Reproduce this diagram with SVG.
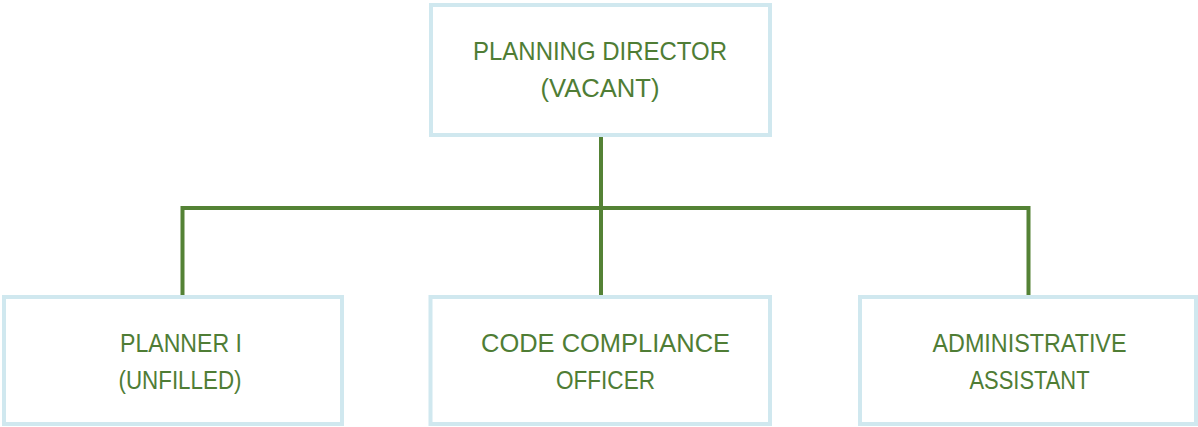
<svg xmlns="http://www.w3.org/2000/svg" width="1198" height="427" viewBox="0 0 1198 427">
  <style>
    .box { fill: #ffffff; stroke: #d0e8ef; stroke-width: 4; }
    .label { font-family: "Liberation Sans", Arial, sans-serif; font-size: 25px; fill: #4f7d35; text-anchor: middle; }
    .link { fill: none; stroke: #548235; stroke-width: 4; stroke-linejoin: miter; stroke-linecap: butt; }
  </style>

  <!-- reporting lines -->
  <g id="connectors">
    <path class="link" d="M601 136 V295"/>
    <path class="link" d="M182.5 295 V208 H1028.5 V295"/>
  </g>

  <g id="planning-director">
    <rect class="box" x="431" y="5" width="339" height="130"/>
    <text class="label" x="600" y="60" textLength="254" lengthAdjust="spacingAndGlyphs">PLANNING DIRECTOR</text>
    <text class="label" x="600" y="97" textLength="119" lengthAdjust="spacingAndGlyphs">(VACANT)</text>
  </g>

  <g id="planner-1">
    <rect class="box" x="4" y="297" width="338" height="127"/>
    <text class="label" x="181" y="352" textLength="122" lengthAdjust="spacingAndGlyphs">PLANNER I</text>
    <text class="label" x="180" y="389" textLength="123" lengthAdjust="spacingAndGlyphs">(UNFILLED)</text>
  </g>

  <g id="code-compliance-officer">
    <rect class="box" x="430.5" y="297" width="339.5" height="127"/>
    <text class="label" x="605.5" y="352" textLength="249" lengthAdjust="spacingAndGlyphs">CODE COMPLIANCE</text>
    <text class="label" x="605.5" y="389" textLength="99" lengthAdjust="spacingAndGlyphs">OFFICER</text>
  </g>

  <g id="administrative-assistant">
    <rect class="box" x="860" y="297" width="336" height="127"/>
    <text class="label" x="1029.5" y="352" textLength="194" lengthAdjust="spacingAndGlyphs">ADMINISTRATIVE</text>
    <text class="label" x="1029.5" y="389" textLength="120" lengthAdjust="spacingAndGlyphs">ASSISTANT</text>
  </g>
</svg>
